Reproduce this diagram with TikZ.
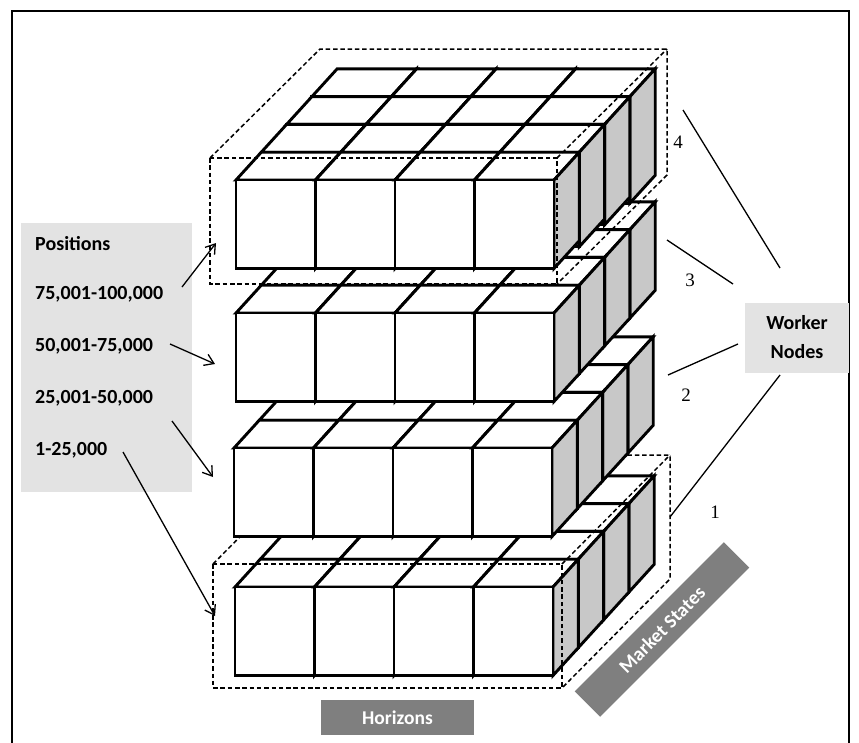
\documentclass[tikz,border=0pt]{standalone}
\usepackage{fontspec}
\setmainfont{Carlito}
\newfontfamily\numfont{Liberation Serif}
\usetikzlibrary{arrows.meta}
\definecolor{sidegray}{RGB}{200,200,200}
\definecolor{lightbox}{RGB}{227,227,227}
\definecolor{darkbox}{RGB}{127,127,127}
\newcommand\drawcube[3]{%
  \filldraw[cubeline, fill=white] (#1,#2) -- ++(79.5,0) -- ++(25.3,-27.8) -- ++(-79.5,0) -- cycle;
  \filldraw[cubeline, fill=sidegray] (#1+79.5,#2) -- ++(25.3,-27.8) -- ++(0,#3) -- ++(-25.3,27.8) -- cycle;
  \filldraw[cubeline, fill=white] (#1,#2) rectangle ++(79.5,#3);
}
\newcommand\drawlayer[3]{% x0, y0, height increment per row
  \foreach \k in {3,2,1,0} {
    \foreach \j in {0,1,2,3} {
      \pgfmathsetmacro\cx{#1+79.5*\j+25.3*\k}
      \pgfmathsetmacro\cy{#2-27.8*\k}
      \pgfmathsetmacro\ch{88.5+#3*\k}
      \drawcube{\cx}{\cy}{\ch}
    }
  }
}
\newcommand\dashcuboid[6]{% x1,y1,x2,y2,dx,dy
  \draw[dashbox] (#1,#2) rectangle (#3,#4);
  \draw[dashbox] (#1,#2) -- ++(#5,#6) -- (#3+#5,#2+#6) -- (#3+#5,#4+#6) -- (#3,#4);
  \draw[dashbox] (#3,#2) -- ++(#5,#6);
}
\begin{document}
\begin{tikzpicture}[x=1pt,y=-1pt,
  cubeline/.style={line width=2.9pt, line join=miter},
  dashbox/.style={line width=1.5pt, dash pattern=on 4.5pt off 2.8pt},
  lbl/.style={font=\bfseries\fontsize{20}{24}\selectfont, inner sep=0pt},
  numlbl/.style={font=\numfont\fontsize{19}{22}\selectfont, inner sep=0pt},
  posarrow/.style={line width=1.3pt, -{Straight Barb[length=9pt,width=12pt,line width=1.3pt]}},
  wline/.style={line width=1.3pt},
  greybox/.style={fill=lightbox, draw=none},
  darklabel/.style={fill=darkbox, draw=none, text=white, font=\bfseries\fontsize{19.5}{22}\selectfont, inner sep=0pt}]
\useasboundingbox (0,0) rectangle (859,742);
% frame
\draw[line width=1.5pt] (12,760) -- (12,11) -- (849,11) -- (849,760);

% positions box
\fill[lightbox] (21,223) rectangle (192,492);
\node[lbl, anchor=base west] (ptitle) at (35,250) {Positions};
\node[lbl, anchor=base west] (p4) at (35,299) {75,001-100,000};
\node[lbl, anchor=base west] (p3) at (35,351) {50,001-75,000};
\node[lbl, anchor=base west] (p2) at (35,403) {25,001-50,000};
\node[lbl, anchor=base west] (p1) at (35,455) {1-25,000};

% layers, bottom to top
\drawlayer{235}{587}{0}
\dashcuboid{213}{564}{562}{688}{108}{-109}
\drawlayer{234}{448}{0}
\drawlayer{236}{313}{0}
\drawlayer{236}{180}{6}
\dashcuboid{210}{158}{557}{284}{110}{-109}

% arrows from positions
\coordinate (a4s) at (182,287); \coordinate (a4e) at (216,243);
\coordinate (a3s) at (170,344); \coordinate (a3e) at (215,364);
\coordinate (a2s) at (172,421); \coordinate (a2e) at (213,477);
\coordinate (a1s) at (123,452); \coordinate (a1e) at (215,616);
\draw[posarrow] (a4s) -- (a4e);
\draw[posarrow] (a3s) -- (a3e);
\draw[posarrow] (a2s) -- (a2e);
\draw[posarrow] (a1s) -- (a1e);

% numbers
\node[numlbl] (n4) at (678,142) {4};
\node[numlbl] (n3) at (690,280) {3};
\node[numlbl] (n2) at (686,395) {2};
\node[numlbl] (n1) at (715,512) {1};

% worker nodes
\node[greybox, minimum width=104pt, minimum height=70pt, inner sep=0pt] (worker) at (797,338) {};
\node[lbl, anchor=base] (wk1) at (797,329) {Worker};
\node[lbl, anchor=base] (wk2) at (797,358) {Nodes};
\coordinate (w4s) at (780,268); \coordinate (w4e) at (683,110);
\coordinate (w3s) at (733,284); \coordinate (w3e) at (667,240);
\coordinate (w2s) at (738,344); \coordinate (w2e) at (668,375);
\coordinate (w1s) at (780,375); \coordinate (w1e) at (670,517);
\draw[wline] (w4s) -- (w4e);
\draw[wline] (w3s) -- (w3e);
\draw[wline] (w2s) -- (w2e);
\draw[wline] (w1s) -- (w1e);

% axis labels
\node[darklabel, minimum width=153pt, minimum height=35pt] (horiz) at (397.5,717.5) {Horizons};
\node[darklabel, rotate=45, minimum width=211pt, minimum height=36pt] (market) at (662,629.5) {Market States};
\end{tikzpicture}
\end{document}
